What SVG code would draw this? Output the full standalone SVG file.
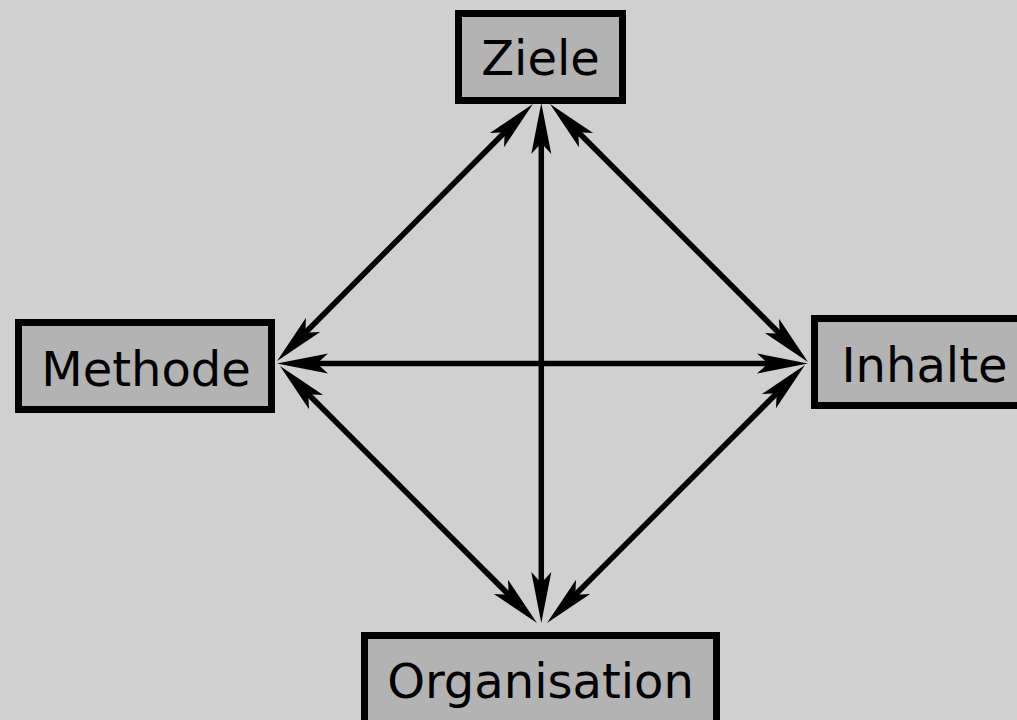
<svg xmlns="http://www.w3.org/2000/svg" width="1017" height="720" viewBox="0 0 1017 720">
<style>
.box{fill:#b3b3b3;stroke:#000;stroke-width:7}
.lbl{font-family:"DejaVu Sans",sans-serif;font-size:48px;fill:#000;text-anchor:middle}
.edge{stroke:#000;stroke-width:5.5;fill:none;marker-start:url(#ah);marker-end:url(#ah)}
</style>
<defs>
<marker id="ah" markerUnits="userSpaceOnUse" markerWidth="52" markerHeight="22" viewBox="0 0 52 22" refX="11" refY="11" orient="auto-start-reverse">
<path d="M51,11 L0,1 L11,11 L0,21 Z" fill="#000"/>
</marker>
</defs>
<rect width="1017" height="720" fill="#d0d0d0"/>
<g id="connectors">
<line class="edge" x1="541.3" y1="143" x2="541.3" y2="583"/>
<line class="edge" x1="317" y1="363.5" x2="768" y2="363.5"/>
<line class="edge" x1="504.7" y1="132.3" x2="305.3" y2="332.7"/>
<line class="edge" x1="578.3" y1="132.3" x2="779.7" y2="333.7"/>
<line class="edge" x1="308.3" y1="394.3" x2="508.7" y2="594.7"/>
<line class="edge" x1="776.7" y1="393.3" x2="575.3" y2="594.7"/>
</g>
<g id="ziele">
<rect class="box" x="458.5" y="13.5" width="164" height="87"/>
<text class="lbl" x="540.5" y="75">Ziele</text>
</g>
<g id="methode">
<rect class="box" x="18.5" y="322.5" width="253" height="87"/>
<text class="lbl" x="146" y="385.5">Methode</text>
</g>
<g id="inhalte">
<rect class="box" x="814.5" y="318.5" width="220" height="87"/>
<text class="lbl" x="924.5" y="381.5">Inhalte</text>
</g>
<g id="organisation">
<rect class="box" x="364.5" y="635.5" width="352" height="90"/>
<text class="lbl" x="540.5" y="698">Organisation</text>
</g>
</svg>
